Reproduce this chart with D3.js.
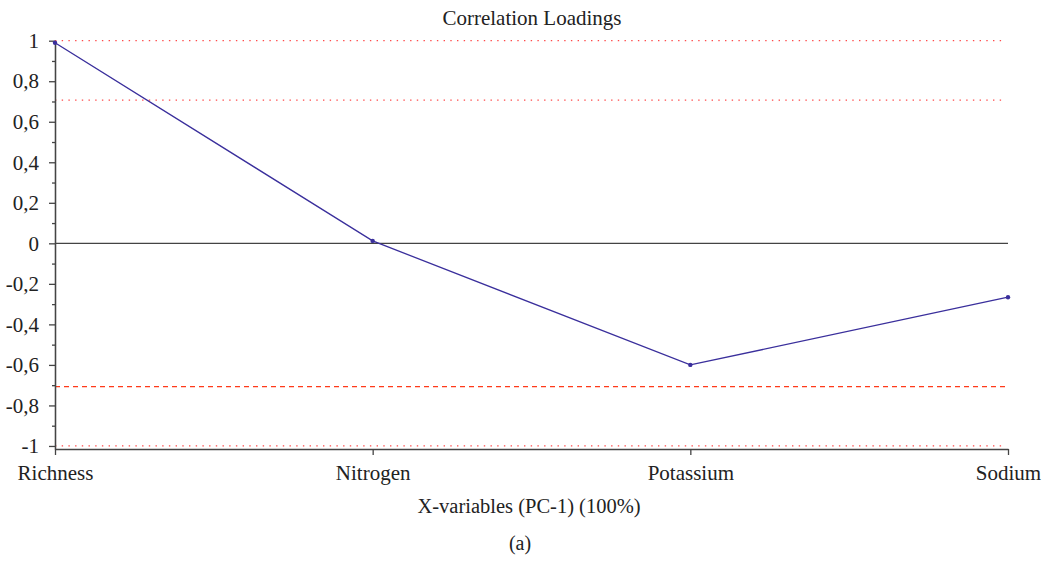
<!DOCTYPE html>
<html>
<head>
<meta charset="utf-8">
<script src="https://cdn.jsdelivr.net/npm/d3@7"></script>
<style>
  body { margin: 0; background: #fff; }
</style>
</head>
<body>
<svg width="1048" height="561"></svg>
<script>
const variables = ['Richness', 'Nitrogen', 'Potassium', 'Sodium'];
const loadings = [0.99, 0.012, -0.6, -0.266];
const majorTicks = [-1, -0.8, -0.6, -0.4, -0.2, 0, 0.2, 0.4, 0.6, 0.8, 1];
const minorTicks = [-0.9, -0.7, -0.5, -0.3, -0.1, 0.1, 0.3, 0.5, 0.7, 0.9];
const dottedLevels = [1, 0.707, -1];
const dashedLevels = [-0.707];

const FONT = "'Liberation Serif', serif";

const svg = d3.select('svg');
const width = +svg.attr('width');

const margin = { top: 40.7, right: 40, bottom: 112, left: 55 };
const innerW = width - margin.left - margin.right;
const innerH = 561 - margin.top - margin.bottom;

const x = d3.scalePoint().domain(variables).range([0, innerW]);
const y = d3.scaleLinear().domain([-1.015, 1]).range([innerH, 0]);

const g = svg.append('g').attr('transform', `translate(${margin.left},${margin.top})`);

const fmt = d => String(d).replace('.', ',');

// reference lines
g.selectAll('.dotted').data(dottedLevels).enter().append('line')
  .attr('x1', 0).attr('x2', innerW - 3)
  .attr('y1', d => y(d)).attr('y2', d => y(d))
  .attr('stroke', '#ff4a4a').attr('stroke-width', 1.3)
  .attr('stroke-dasharray', '1.4,5.3');

g.selectAll('.dashed').data(dashedLevels).enter().append('line')
  .attr('x1', 0).attr('x2', innerW)
  .attr('y1', d => y(d)).attr('y2', d => y(d))
  .attr('stroke', '#ff3a1a').attr('stroke-width', 1.3)
  .attr('stroke-dasharray', '5,4');

// zero line
g.append('line')
  .attr('x1', 0).attr('x2', innerW)
  .attr('y1', y(0)).attr('y2', y(0))
  .attr('stroke', '#444').attr('stroke-width', 1.3);

// axes
g.append('g')
  .call(d3.axisLeft(y).tickValues(majorTicks).tickFormat(fmt).tickSize(6).tickSizeOuter(0).tickPadding(10));
g.append('g')
  .call(d3.axisLeft(y).tickValues(minorTicks).tickFormat('').tickSize(3).tickSizeOuter(0));

g.append('g')
  .attr('transform', `translate(0,${innerH})`)
  .call(d3.axisBottom(x).tickSize(6).tickSizeOuter(0).tickPadding(10));

svg.selectAll('.domain, .tick line').attr('stroke', '#444').attr('stroke-width', 1.3);
svg.selectAll('g').attr('font-family', FONT);
svg.selectAll('.tick text').attr('font-size', 21).attr('fill', '#222');

// loadings line
const line = d3.line().x((d, i) => x(variables[i])).y(d => y(d));
g.append('path').datum(loadings)
  .attr('d', line)
  .attr('fill', 'none')
  .attr('stroke', '#3a2f9c')
  .attr('stroke-width', 1.3);

g.selectAll('circle').data(loadings).enter().append('circle')
  .attr('cx', (d, i) => x(variables[i]))
  .attr('cy', d => y(d))
  .attr('r', 2.2)
  .attr('fill', '#3a2f9c');

// titles
const label = (tx, ty, size, s) => svg.append('text')
  .attr('x', tx).attr('y', ty).attr('text-anchor', 'middle')
  .style('font-family', FONT).attr('font-size', size).attr('fill', '#222').text(s);
label(532, 25, 21, 'Correlation Loadings');
label(529, 513, 20.5, 'X-variables (PC-1) (100%)');
label(520, 550, 20, '(a)');
</script>
</body>
</html>
